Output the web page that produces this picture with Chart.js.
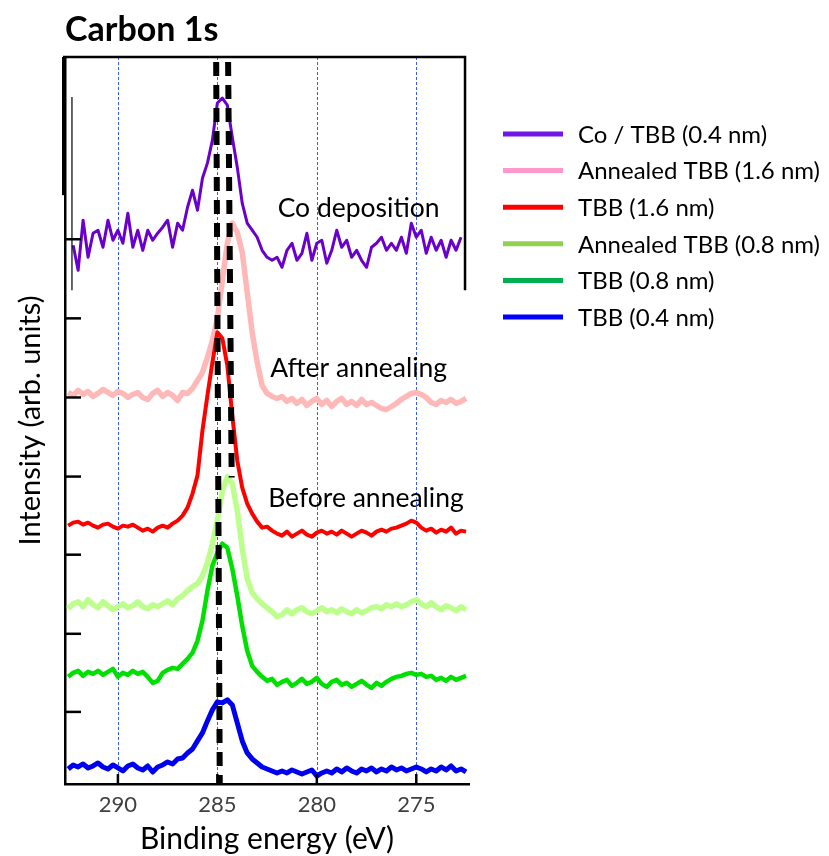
<!DOCTYPE html>
<html>
<head>
<meta charset="utf-8">
<script src="https://cdn.jsdelivr.net/npm/chart.js@4.4.1/dist/chart.umd.min.js"></script>
<style>
  html, body { margin: 0; padding: 0; background: #fff; }
  #wrap { width: 829px; height: 856px; }
</style>
</head>
<body>
<div id="wrap"><canvas id="c" width="829" height="856"></canvas></div>
<script>
// ---- data (binding energy in eV, intensity in arbitrary units, curves offset) ----
const energies = [292.5, 292.25, 292, 291.75, 291.5, 291.25, 291, 290.75, 290.5, 290.25, 290, 289.75, 289.5, 289.25, 289, 288.75, 288.5, 288.25, 288, 287.75, 287.5, 287.25, 287, 286.75, 286.5, 286.25, 286, 285.75, 285.5, 285.25, 285, 284.75, 284.5, 284.25, 284, 283.75, 283.5, 283.25, 283, 282.75, 282.5, 282.25, 282, 281.75, 281.5, 281.25, 281, 280.75, 280.5, 280.25, 280, 279.75, 279.5, 279.25, 279, 278.75, 278.5, 278.25, 278, 277.75, 277.5, 277.25, 277, 276.75, 276.5, 276.25, 276, 275.75, 275.5, 275.25, 275, 274.75, 274.5, 274.25, 274, 273.75, 273.5, 273.25, 273, 272.75, 272.5];

const coTBB04 = [null,538,513,563,526,550,553,536,563,543,553,540,570,536,553,533,553,543,550,556,563,536,560,553,576,593,573,605,620,643,680,685,678,646,616,580,560,553,546,533,526,523,526,516,533,540,523,530,550,523,540,543,520,533,553,536,543,526,533,523,516,536,540,546,533,540,533,546,530,560,546,553,530,546,533,543,526,543,533,546,null];

const annealedTBB16 = [391,388,393,389,392,387,390,394,391,388,392,390,386,389,391,386,384,390,393,387,391,388,383,391,390,395,403,411,426,443,465,503,540,560,551,531,491,451,421,398,390,387,385,387,382,385,380,384,378,382,385,379,383,377,382,385,379,382,378,384,379,381,378,375,374,377,380,384,387,390,391,389,386,381,379,383,381,384,380,382,385];

const tbb16 = [258,261,262,259,261,258,256,259,260,257,255,258,257,259,256,253,255,252,256,258,256,260,263,268,276,290,308,353,388,421,451,445,418,368,323,296,280,270,262,256,257,253,250,248,252,247,250,253,249,247,251,253,250,252,249,253,250,247,250,253,251,248,252,254,252,255,256,258,260,263,261,256,253,255,251,254,252,256,250,253,252];

const annealedTBB08 = [175,180,182,177,184,179,176,182,178,174,177,180,176,178,182,177,175,179,177,180,183,179,185,188,193,197,200,208,221,240,263,293,307,300,273,235,205,191,185,180,176,172,167,169,174,170,174,176,172,170,173,176,172,174,171,175,172,170,174,171,173,176,177,175,179,177,180,177,179,182,184,180,177,181,177,174,178,176,173,177,174];

const tbb08 = [107,111,113,108,112,110,113,109,112,115,107,111,109,113,110,112,107,101,103,111,114,116,115,120,125,131,143,163,193,218,231,240,236,215,188,158,133,118,112,107,103,105,99,102,104,98,101,105,100,102,106,100,97,102,104,99,101,97,100,103,99,96,101,98,102,105,107,108,110,111,109,110,107,108,104,106,103,107,104,106,108];

const tbb04 = [15,19,17,20,16,18,21,17,15,19,16,13,18,20,16,14,18,12,17,19,22,20,25,26,31,35,43,51,63,74,82,81,84,79,61,43,31,25,21,17,15,13,11,13,11,14,12,10,12,14,8,11,13,11,15,12,16,13,11,15,13,16,12,15,13,17,14,16,13,15,17,15,12,15,13,17,14,18,13,15,12];

// reference peak-position guide lines (energy, intensity)
const guideLeftE = [285.06, 284.88];
const guideLeftI = [721, 0];
const guideRightE = [284.46, 284.28];
const guideRightI = [721, 306];

const seriesNames = ['Co / TBB (0.4 nm)', 'Annealed TBB (1.6 nm)', 'TBB (1.6 nm)', 'Annealed TBB (0.8 nm)', 'TBB (0.8 nm)', 'TBB (0.4 nm)'];
const xTickValues = [290, 285, 280, 275];
const yTickValues = [72, 150, 229, 307, 386, 465, 544];
const xMin = 272.35, xMax = 292.66, yMin = 0, yMax = 726;

// in-plot annotation labels: text, energy, intensity
const noteTexts = ['Co deposition', 'After annealing', 'Before annealing'];
const noteE = [277.9, 277.9, 277.53];
const noteI = [575, 415, 285];

// ---- styles ----
const curveColors = ['#6a00cc', '#ffb8b8', '#ff0000', '#bdff8c', '#00e000', '#0000f0'];
const curveWidths = [3, 5.5, 4, 5.5, 4.5, 5];
const legendColors = ['#7016e6', '#ff99cc', '#ff0000', '#92d050', '#00b050', '#0000ff'];
const FONT = 'Lato, "Open Sans", "Noto Sans", sans-serif';

const toXY = (xs, ys) => xs.map((x, i) => ({ x: x, y: ys[i] }));
const seriesValues = [coTBB04, annealedTBB16, tbb16, annealedTBB08, tbb08, tbb04];

function curveDataset(i) {
  return {
    label: seriesNames[i],
    data: toXY(energies, seriesValues[i]),
    borderColor: curveColors[i],
    backgroundColor: curveColors[i],
    borderWidth: curveWidths[i],
    pointRadius: 0,
    tension: 0,
    fill: false,
    borderJoinStyle: 'round',
    spanGaps: false
  };
}
function guideDataset(xs, ys) {
  return {
    label: '_guide',
    data: toXY(xs, ys),
    borderColor: '#000',
    borderWidth: 6,
    borderDash: [14, 9],
    pointRadius: 0,
    fill: false
  };
}

// drawing order: first dataset on top
const datasets = [
  guideDataset(guideLeftE, guideLeftI),
  guideDataset(guideRightE, guideRightI),
  curveDataset(0), curveDataset(2), curveDataset(1), curveDataset(4), curveDataset(3), curveDataset(5)
];

const decorPlugin = {
  id: 'decor',
  beforeDatasetsDraw(chart) {
    const { ctx, chartArea, scales } = chart;
    ctx.save();
    ctx.strokeStyle = '#3a5cff';
    ctx.lineWidth = 1;
    ctx.setLineDash([3, 2]);
    xTickValues.forEach(v => {
      const x = Math.round(scales.x.getPixelForValue(v)) + 0.5;
      ctx.beginPath();
      ctx.moveTo(x, chartArea.top);
      ctx.lineTo(x, chartArea.bottom);
      ctx.stroke();
    });
    ctx.restore();
  },
  afterDraw(chart) {
    const { ctx, chartArea, scales } = chart;
    const xs = scales.x, ys = scales.y;
    ctx.save();
    ctx.strokeStyle = '#000';
    ctx.setLineDash([]);
    // inside tick marks
    ctx.lineWidth = 2.5;
    xTickValues.forEach(v => {
      const x = xs.getPixelForValue(v);
      ctx.beginPath();
      ctx.moveTo(x, chartArea.bottom);
      ctx.lineTo(x, chartArea.bottom - 10);
      ctx.stroke();
    });
    yTickValues.forEach(v => {
      const y = ys.getPixelForValue(v);
      ctx.beginPath();
      ctx.moveTo(chartArea.left, y);
      ctx.lineTo(chartArea.left + 16, y);
      ctx.stroke();
    });
    // upper frame of top panel
    const rx = xs.getPixelForValue(272.55);
    const by = ys.getPixelForValue(493);
    ctx.lineWidth = 2.5;
    ctx.beginPath();
    ctx.moveTo(chartArea.left - 2, chartArea.top);
    ctx.lineTo(rx, chartArea.top);
    ctx.lineTo(rx, by);
    ctx.stroke();
    ctx.lineWidth = 1.2;
    const tx = xs.getPixelForValue(292.31);
    ctx.beginPath();
    ctx.moveTo(tx, ys.getPixelForValue(686));
    ctx.lineTo(tx, by);
    ctx.stroke();
    ctx.lineWidth = 4;
    ctx.beginPath();
    ctx.moveTo(chartArea.left - 1, chartArea.top);
    ctx.lineTo(chartArea.left - 1, ys.getPixelForValue(588));
    ctx.stroke();

    // annotations
    ctx.fillStyle = '#000';
    ctx.font = '26.5px ' + FONT;
    ctx.textAlign = 'center';
    ctx.textBaseline = 'middle';
    noteTexts.forEach((t, i) => {
      ctx.fillText(t, xs.getPixelForValue(noteE[i]), ys.getPixelForValue(noteI[i]));
    });

    // legend
    const lx = chartArea.right + 34;
    ctx.textAlign = 'left';
    ctx.font = '24px ' + FONT;
    seriesNames.forEach((name, i) => {
      const y = chartArea.top + 77 + i * 36.6;
      ctx.strokeStyle = legendColors[i];
      ctx.lineWidth = 5;
      ctx.beginPath();
      ctx.moveTo(lx, y);
      ctx.lineTo(lx + 60, y);
      ctx.stroke();
      ctx.fillStyle = '#000';
      ctx.fillText(name, lx + 75, y + 1);
    });
    ctx.restore();
  }
};

function build() {
  new Chart(document.getElementById('c'), {
    type: 'line',
    data: { datasets: datasets },
    plugins: [decorPlugin],
    options: {
      responsive: false,
      animation: false,
      events: [],
      layout: { padding: { left: 0, right: 360, top: 0, bottom: 0 } },
      plugins: {
        legend: { display: false },
        tooltip: { enabled: false },
        title: {
          display: true,
          text: 'Carbon 1s',
          align: 'start',
          fullSize: false,
          color: '#000',
          font: { family: FONT, size: 34, weight: 'bold', lineHeight: 1.2 },
          padding: { top: 9.6, bottom: 6.6 }
        }
      },
      scales: {
        x: {
          type: 'linear',
          reverse: true,
          min: xMin,
          max: xMax,
          afterBuildTicks: s => { s.ticks = xTickValues.map(v => ({ value: v })); },
          grid: { display: false, drawTicks: false },
          border: { display: true, color: '#000', width: 2.5 },
          ticks: { color: '#404040', font: { family: FONT, size: 22, lineHeight: 1.0 }, padding: 10, maxRotation: 0 },
          title: {
            display: true,
            text: 'Binding energy (eV)',
            color: '#000',
            font: { family: FONT, size: 30, lineHeight: 0.9 },
            padding: { top: 0, bottom: 3 }
          }
        },
        y: {
          type: 'linear',
          min: yMin,
          max: yMax,
          afterBuildTicks: s => { s.ticks = yTickValues.map(v => ({ value: v })); },
          grid: { display: false, drawTicks: false },
          border: { display: true, color: '#000', width: 2.5 },
          ticks: { display: false },
          title: {
            display: true,
            text: 'Intensity (arb. units)',
            color: '#000',
            font: { family: FONT, size: 29, lineHeight: 1.0 },
            padding: { top: 16.5, bottom: 19.5 }
          }
        }
      }
    }
  });
}

const fontLoads = ['22px Lato', 'bold 32px Lato'].map(f => document.fonts.load(f).catch(() => null));
Promise.all(fontLoads).then(build, build);
</script>
</body>
</html>
